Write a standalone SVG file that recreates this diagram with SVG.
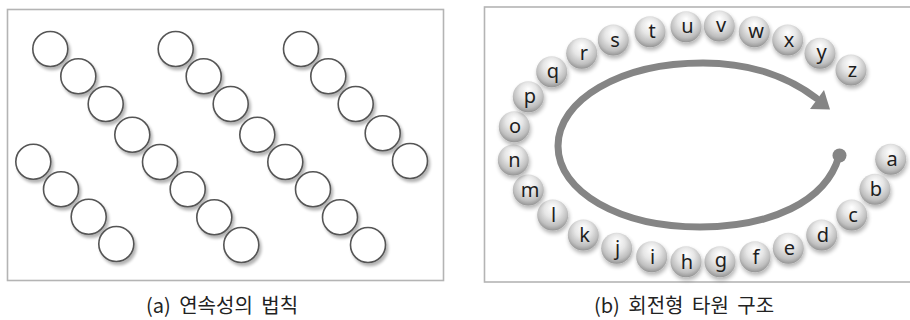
<svg xmlns="http://www.w3.org/2000/svg" width="910" height="320" viewBox="0 0 910 320">
<style>
.panel{fill:#fff;stroke:#b4b4b4;stroke-width:1.6}
.ring{fill:#fff;stroke:#555;stroke-width:1.6;filter:url(#sh)}
.ball{fill:url(#bg);filter:url(#bsh)}
.lt{font-family:"Noto Sans","Open Sans",sans-serif;font-size:20px;fill:#1e1e1e;text-anchor:middle}
.cap{font-family:"Noto Sans CJK KR","Noto Sans",sans-serif;font-size:20px;fill:#222;text-anchor:middle;word-spacing:4px}
.arc{fill:none;stroke:#858585;stroke-width:7;stroke-linecap:round}
</style>
<defs>
<filter id="sh" x="-30%" y="-30%" width="170%" height="170%">
<feGaussianBlur in="SourceAlpha" stdDeviation="1.8"/>
<feOffset dx="2" dy="3" result="b"/>
<feComponentTransfer><feFuncA type="linear" slope="0.3"/></feComponentTransfer>
<feMerge><feMergeNode/><feMergeNode in="SourceGraphic"/></feMerge>
</filter>
<filter id="bsh" x="-30%" y="-30%" width="170%" height="170%">
<feGaussianBlur in="SourceAlpha" stdDeviation="2"/>
<feOffset dx="1" dy="3" result="b"/>
<feComponentTransfer><feFuncA type="linear" slope="0.3"/></feComponentTransfer>
<feMerge><feMergeNode/><feMergeNode in="SourceGraphic"/></feMerge>
</filter>
<radialGradient id="bg" cx="50%" cy="40%" r="60%" fx="50%" fy="25%">
<stop offset="0" stop-color="#ffffff"/>
<stop offset="0.45" stop-color="#e6e6e6"/>
<stop offset="0.8" stop-color="#bfbfbf"/>
<stop offset="1" stop-color="#959595"/>
</radialGradient>
</defs>

<g id="panel-a">
<rect class="panel" x="7.5" y="9.5" width="436" height="271"/>
<g id="chain1">
<circle class="ring" cx="50.3" cy="49" r="17.5"/>
<circle class="ring" cx="78.3" cy="76.3" r="17.5"/>
<circle class="ring" cx="105.7" cy="104" r="17.5"/>
<circle class="ring" cx="132.3" cy="134.7" r="17.5"/>
<circle class="ring" cx="160" cy="162" r="17.5"/>
<circle class="ring" cx="187.7" cy="189.3" r="17.5"/>
<circle class="ring" cx="214.3" cy="217.3" r="17.5"/>
<circle class="ring" cx="241.3" cy="245" r="17.5"/>
</g>
<g id="chain2">
<circle class="ring" cx="175.7" cy="49" r="17.5"/>
<circle class="ring" cx="203.7" cy="76.3" r="17.5"/>
<circle class="ring" cx="230.7" cy="104" r="17.5"/>
<circle class="ring" cx="257.3" cy="134.7" r="17.5"/>
<circle class="ring" cx="285.3" cy="162" r="17.5"/>
<circle class="ring" cx="313" cy="189.3" r="17.5"/>
<circle class="ring" cx="340" cy="217.3" r="17.5"/>
<circle class="ring" cx="368" cy="245" r="17.5"/>
</g>
<g id="chain3">
<circle class="ring" cx="301" cy="49" r="17.5"/>
<circle class="ring" cx="328.3" cy="76.3" r="17.5"/>
<circle class="ring" cx="355.7" cy="104" r="17.5"/>
<circle class="ring" cx="382.7" cy="133.3" r="17.5"/>
<circle class="ring" cx="410" cy="161" r="17.5"/>
</g>
<g id="chain4">
<circle class="ring" cx="33.3" cy="161.7" r="17.5"/>
<circle class="ring" cx="61" cy="189.3" r="17.5"/>
<circle class="ring" cx="88.7" cy="216.7" r="17.5"/>
<circle class="ring" cx="116.3" cy="244" r="17.5"/>
</g>
<text class="cap" x="222" y="313">(a) 연속성의 법칙</text>
</g>

<g id="panel-b">
<rect class="panel" x="484.5" y="7" width="440" height="275"/>
<g id="connectors">
<path class="arc" d="M839 156 C826 202 770 227 700 227 C620 227 558 192 558 146 C558 100 620 63 703 63 C752 63 790 78 816 98"/>
<circle cx="839.5" cy="155.5" r="7" fill="#858585"/>
<polygon points="810,109 830,109.5 824,90" fill="#858585"/>
</g>
<g id="ball-a"><circle class="ball" cx="890.7" cy="159.3" r="15.5"/><text class="lt" x="892" y="166">a</text></g>
<g id="ball-b"><circle class="ball" cx="875" cy="189.3" r="15.5"/><text class="lt" x="876" y="196">b</text></g>
<g id="ball-c"><circle class="ball" cx="851.7" cy="215" r="15.5"/><text class="lt" x="853" y="222">c</text></g>
<g id="ball-d"><circle class="ball" cx="821.7" cy="235" r="15.5"/><text class="lt" x="823" y="242">d</text></g>
<g id="ball-e"><circle class="ball" cx="788.3" cy="248.3" r="15.5"/><text class="lt" x="789.5" y="255">e</text></g>
<g id="ball-f"><circle class="ball" cx="755" cy="256.7" r="15.5"/><text class="lt" x="756" y="264">f</text></g>
<g id="ball-g"><circle class="ball" cx="720" cy="261.7" r="15.5"/><text class="lt" x="721" y="267">g</text></g>
<g id="ball-h"><circle class="ball" cx="686" cy="261.7" r="15.5"/><text class="lt" x="687" y="269">h</text></g>
<g id="ball-i"><circle class="ball" cx="651.7" cy="256.7" r="15.5"/><text class="lt" x="652.5" y="264">i</text></g>
<g id="ball-j"><circle class="ball" cx="616.7" cy="248.3" r="15.5"/><text class="lt" x="617.5" y="255">j</text></g>
<g id="ball-k"><circle class="ball" cx="583.3" cy="235" r="15.5"/><text class="lt" x="584.5" y="242">k</text></g>
<g id="ball-l"><circle class="ball" cx="552.7" cy="215" r="15.5"/><text class="lt" x="553.5" y="222">l</text></g>
<g id="ball-m"><circle class="ball" cx="528.3" cy="190" r="15.5"/><text class="lt" x="530" y="197">m</text></g>
<g id="ball-n"><circle class="ball" cx="513.3" cy="160" r="15.5"/><text class="lt" x="514.5" y="167">n</text></g>
<g id="ball-o"><circle class="ball" cx="514.3" cy="126.7" r="15.5"/><text class="lt" x="515" y="133">o</text></g>
<g id="ball-p"><circle class="ball" cx="528.3" cy="96.7" r="15.5"/><text class="lt" x="530" y="103">p</text></g>
<g id="ball-q"><circle class="ball" cx="551.7" cy="71.7" r="15.5"/><text class="lt" x="553" y="78">q</text></g>
<g id="ball-r"><circle class="ball" cx="581.7" cy="53.3" r="15.5"/><text class="lt" x="584" y="60">r</text></g>
<g id="ball-s"><circle class="ball" cx="613.3" cy="40" r="15.5"/><text class="lt" x="615" y="47">s</text></g>
<g id="ball-t"><circle class="ball" cx="650" cy="31.7" r="15.5"/><text class="lt" x="652" y="38">t</text></g>
<g id="ball-u"><circle class="ball" cx="686" cy="26.7" r="15.5"/><text class="lt" x="687.5" y="33">u</text></g>
<g id="ball-v"><circle class="ball" cx="719.3" cy="26" r="15.5"/><text class="lt" x="721" y="32">v</text></g>
<g id="ball-w"><circle class="ball" cx="754.3" cy="31.7" r="15.5"/><text class="lt" x="756" y="38">w</text></g>
<g id="ball-x"><circle class="ball" cx="787.7" cy="40" r="15.5"/><text class="lt" x="789" y="47">x</text></g>
<g id="ball-y"><circle class="ball" cx="820" cy="53.3" r="15.5"/><text class="lt" x="821.5" y="59">y</text></g>
<g id="ball-z"><circle class="ball" cx="851" cy="70" r="15.5"/><text class="lt" x="852.5" y="77">z</text></g>
<text class="cap" x="684" y="313">(b) 회전형 타원 구조</text>
</g>
</svg>
